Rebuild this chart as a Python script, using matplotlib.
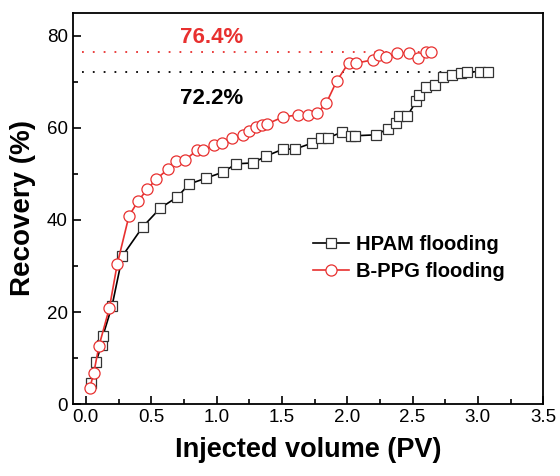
import matplotlib
matplotlib.use('Agg')
from matplotlib import pyplot as plt
from matplotlib.ticker import MultipleLocator

plt.rcParams['font.family'] = ['Liberation Sans', 'DejaVu Sans']

# HPAM flooding (squares)
hpam_pv = [0.04, 0.076, 0.12, 0.13, 0.20, 0.28, 0.435, 0.57, 0.70, 0.79, 0.92,
           1.05, 1.15, 1.28, 1.38, 1.51, 1.60, 1.73, 1.80, 1.85, 1.96, 2.03,
           2.06, 2.22, 2.31, 2.37, 2.40, 2.46, 2.53, 2.55, 2.60, 2.67, 2.73,
           2.80, 2.87, 2.92, 3.02, 3.08]
hpam_rec = [4.6, 9.1, 12.8, 14.8, 21.3, 32.2, 38.5, 42.6, 45.0, 47.8, 49.1,
            50.4, 52.2, 52.4, 53.9, 55.4, 55.4, 56.7, 57.8, 57.8, 59.1, 58.3,
            58.3, 58.5, 59.8, 61.1, 62.6, 62.6, 65.9, 67.2, 68.9, 69.3, 71.1,
            71.5, 72.0, 72.2, 72.2, 72.2]

# B-PPG flooding (circles)
bppg_pv = [0.03, 0.06, 0.10, 0.18, 0.24, 0.33, 0.40, 0.47, 0.54, 0.63, 0.69,
           0.76, 0.85, 0.90, 0.98, 1.04, 1.12, 1.20, 1.25, 1.30, 1.35, 1.39,
           1.51, 1.62, 1.70, 1.77, 1.84, 1.92, 2.01, 2.07, 2.20, 2.24, 2.30,
           2.38, 2.47, 2.54, 2.60, 2.64]
bppg_rec = [3.5, 6.7, 12.6, 20.9, 30.4, 40.9, 44.1, 46.7, 48.9, 51.1, 52.8,
            53.0, 55.2, 55.2, 56.3, 56.7, 57.8, 58.5, 59.3, 60.2, 60.7, 60.9,
            62.4, 62.8, 62.8, 63.2, 65.4, 70.2, 74.1, 74.1, 74.8, 75.9, 75.4,
            76.3, 76.3, 75.2, 76.5, 76.5]

hpam_final = 72.2
bppg_final = 76.4

RED = '#e8302f'

fig = plt.figure(figsize=(5.6, 4.76), dpi=100)
ax = fig.add_axes([0.13, 0.151, 0.84, 0.822])

ax.hlines(hpam_final, -0.03, 3.10, colors='black', linewidth=1.3,
          linestyles=(0, (1, 5)))
ax.hlines(bppg_final, -0.03, 2.68, colors=RED, linewidth=1.3,
          linestyles=(0, (1, 5)))

ax.plot(hpam_pv, hpam_rec, color='black', lw=1.2, marker='s', ms=7.2,
        mfc='white', mec='#333333', mew=0.9, label='HPAM flooding')
ax.plot(bppg_pv, bppg_rec, color=RED, lw=1.2, marker='o', ms=8,
        mfc='white', mec=RED, mew=0.9, label='B-PPG flooding')

ax.text(0.96, 79.6, '%.1f%%' % bppg_final, color=RED, fontsize=16,
        fontweight='bold', ha='center', va='center')
ax.text(0.96, 66.5, '%.1f%%' % hpam_final, color='black', fontsize=16,
        fontweight='bold', ha='center', va='center')

ax.set_xlim(-0.1, 3.5)
ax.set_ylim(0, 85)
ax.xaxis.set_major_locator(MultipleLocator(0.5))
ax.xaxis.set_minor_locator(MultipleLocator(0.25))
ax.yaxis.set_major_locator(MultipleLocator(20))
ax.yaxis.set_minor_locator(MultipleLocator(10))
ax.xaxis.set_major_formatter(lambda v, p: '%.1f' % v)
ax.tick_params(which='both', direction='in', top=False, right=False,
               labelsize=13.5, width=1.2)
ax.tick_params(which='major', length=6)
ax.tick_params(which='minor', length=3.5)
for s in ax.spines.values():
    s.set_linewidth(1.3)

ax.set_xlabel('Injected volume (PV)', fontsize=19.5, fontweight='bold',
              labelpad=8)
ax.set_ylabel('Recovery (%)', fontsize=20, fontweight='bold', labelpad=8)

ax.legend(loc='center left', bbox_to_anchor=(0.51, 0.373), frameon=False,
          prop={'weight': 'bold', 'size': 14.5},
          handlelength=1.8, handletextpad=0.35, borderpad=0,
          borderaxespad=0, labelspacing=0.4)

fig.savefig('out.png', dpi=100)
